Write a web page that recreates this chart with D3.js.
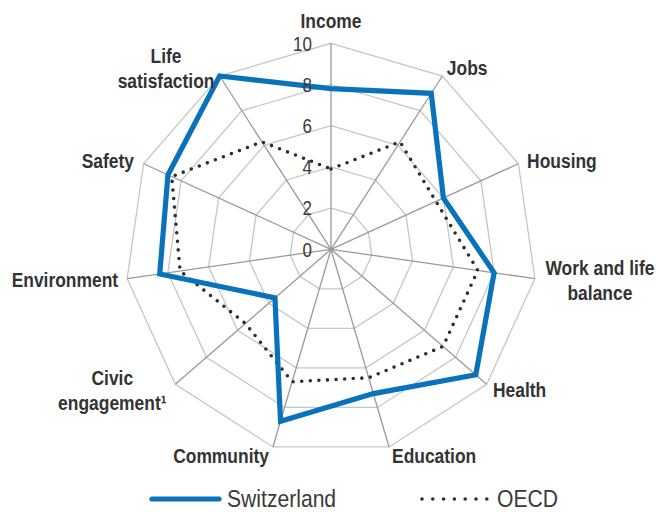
<!DOCTYPE html>
<html>
<head>
<meta charset="utf-8">
<script src="https://cdn.jsdelivr.net/npm/d3@7"></script>
<style>
  html, body { margin: 0; padding: 0; background: #ffffff; }
  svg { display: block; }
  text { font-family: "Liberation Sans", Arial, sans-serif; }
</style>
</head>
<body>
<svg id="chart" width="656" height="512"></svg>
<script>
// Better Life Index dimensions (scores 0-10)
const categories = [
  "Income", "Jobs", "Housing", "Work and life\nbalance", "Health", "Education",
  "Community", "Civic\nengagement¹", "Environment", "Safety", "Life\nsatisfaction"
];
const switzerland = [7.8, 9.0, 6.0, 8.0, 9.3, 7.3, 8.7, 3.6, 8.4, 8.7, 10.0];
const oecd        = [3.9, 6.2, 5.6, 7.2, 7.2, 6.5, 6.7, 5.5, 7.4, 8.5, 6.2];
const tickValues  = [0, 2, 4, 6, 8, 10];
const tickLabels  = ["0", "2", "4", "6", "8", "10"];
const seriesNames = ["Switzerland", "OECD"];

// Label placement relative to each outer vertex: [anchor, dx, dy]
const labelLayout = [
  ["middle", 0, -15], ["start", 4.5, -1], ["start", 8.7, 4.3], ["middle", 65, -3.6],
  ["start", 6.3, 12.8], ["start", 3, 16], ["end", -4, 16], ["middle", -63, 0.8],
  ["end", -9, 8.4], ["end", -9.6, 4.3], ["middle", -53.6, -13]
];

// Horizontal condensing applied to all text (narrow face look)
const NARROW = 0.85;

const cx = 331, cy = 249.3, R = 206;
const svg = d3.select("#chart");
const g = svg.append("g").attr("transform", `translate(${cx},${cy})`);

const r = d3.scaleLinear().domain([0, 10]).range([0, R]);
const angle = d3.scaleLinear().domain([0, categories.length]).range([0, 2 * Math.PI]);

const pt = (i, v) => [r(v) * Math.sin(angle(i)), -r(v) * Math.cos(angle(i))];
const idx = d3.range(categories.length);

// Concentric grid rings
const ringLine = d3.line().curve(d3.curveLinearClosed);
g.selectAll("path.ring")
  .data(tickValues.filter(v => v > 0))
  .join("path")
  .attr("class", "ring")
  .attr("d", v => ringLine(idx.map(i => pt(i, v))))
  .attr("fill", "none")
  .attr("stroke", "#c6c6c6")
  .attr("stroke-width", 1.3);

// Spokes
g.selectAll("line.spoke")
  .data(idx)
  .join("line")
  .attr("class", "spoke")
  .attr("x1", 0).attr("y1", 0)
  .attr("x2", i => pt(i, 10)[0])
  .attr("y2", i => pt(i, 10)[1])
  .attr("stroke", "#9a9a9a")
  .attr("stroke-width", 1.3);

// Series
const seriesLine = d3.line().curve(d3.curveLinearClosed);
g.append("path")
  .attr("d", seriesLine(oecd.map((v, i) => pt(i, v))))
  .attr("fill", "none")
  .attr("stroke", "#2e2e2e")
  .attr("stroke-width", 3.6)
  .attr("stroke-linecap", "round")
  .attr("stroke-dasharray", "0 8.6");

g.append("path")
  .attr("d", seriesLine(switzerland.map((v, i) => pt(i, v))))
  .attr("fill", "none")
  .attr("stroke", "#0a72ba")
  .attr("stroke-width", 5.2)
  .attr("stroke-linejoin", "miter");

// Radial tick labels along the Income axis
g.selectAll("g.tick")
  .data(tickValues)
  .join("g")
  .attr("class", "tick")
  .attr("transform", v => `translate(-19,${-r(v)}) scale(${NARROW},1)`)
  .append("text")
  .attr("dy", "0.36em")
  .attr("text-anchor", "end")
  .attr("font-size", 20)
  .attr("fill", "#3a3a3a")
  .text((v, i) => tickLabels[i]);

// Category labels
const labels = g.selectAll("g.cat")
  .data(idx)
  .join("g")
  .attr("class", "cat")
  .attr("transform", i => {
    const [x, y] = pt(i, 10);
    return `translate(${x + labelLayout[i][1]},${y + labelLayout[i][2]}) scale(${NARROW},1)`;
  })
  .append("text")
  .attr("text-anchor", i => labelLayout[i][0])
  .attr("font-size", 20.5)
  .attr("font-weight", "bold")
  .attr("fill", "#333333");

labels.each(function(i) {
  d3.select(this).selectAll("tspan")
    .data(categories[i].split("\n"))
    .join("tspan")
    .attr("x", 0)
    .attr("y", (d, k) => k * 25)
    .text(d => d);
});

// Legend
const legend = svg.append("g").attr("transform", "translate(0,499)");
legend.append("line")
  .attr("x1", 152).attr("x2", 219).attr("y1", 0).attr("y2", 0)
  .attr("stroke", "#0a72ba").attr("stroke-width", 5.2).attr("stroke-linecap", "round");
legend.append("g")
  .attr("transform", `translate(227,7.6) scale(0.88,1)`)
  .append("text")
  .attr("font-size", 24).attr("fill", "#3a3a3a")
  .text(seriesNames[0]);
legend.append("line")
  .attr("x1", 422).attr("x2", 487).attr("y1", 0).attr("y2", 0)
  .attr("stroke", "#2e2e2e").attr("stroke-width", 3.6)
  .attr("stroke-linecap", "round").attr("stroke-dasharray", "0 10.8");
legend.append("g")
  .attr("transform", `translate(497,7.6) scale(0.88,1)`)
  .append("text")
  .attr("font-size", 24).attr("fill", "#3a3a3a")
  .text(seriesNames[1]);
</script>
</body>
</html>
